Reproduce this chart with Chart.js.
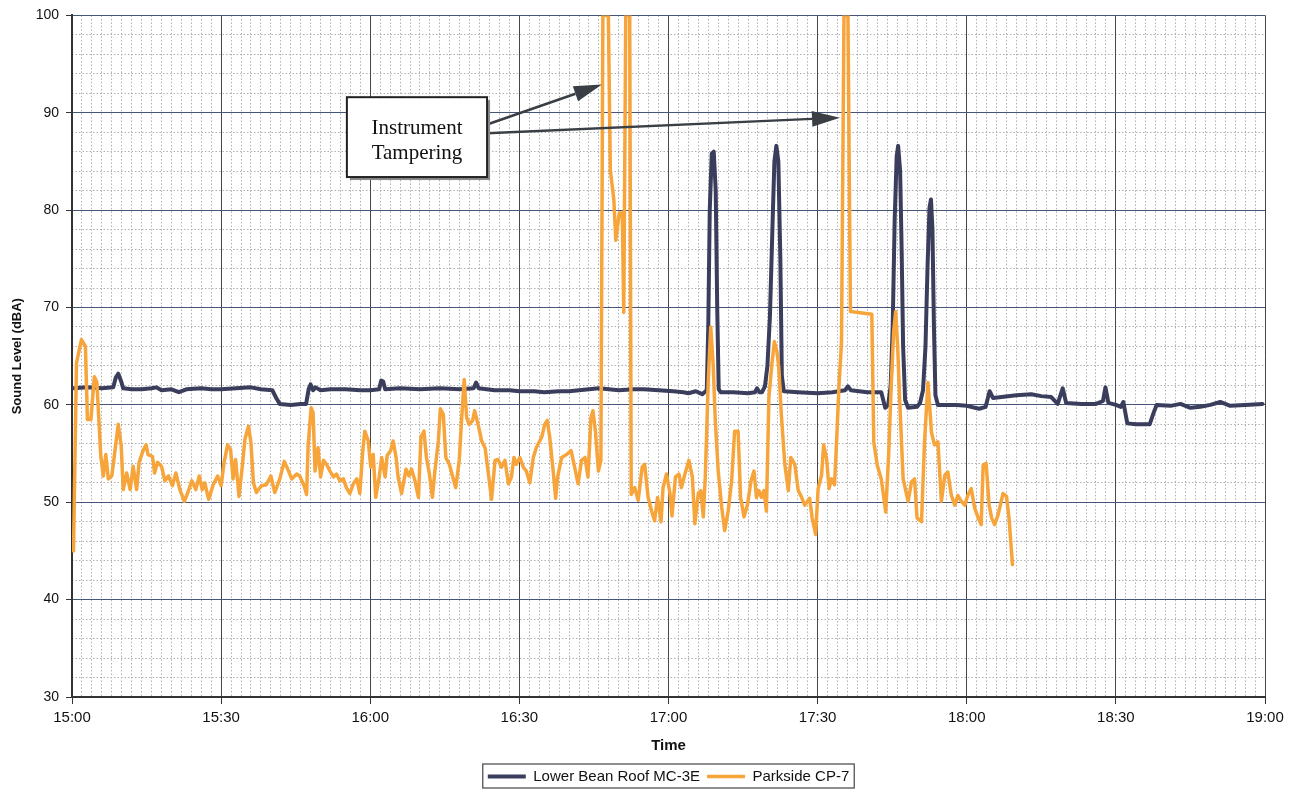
<!DOCTYPE html>
<html>
<head>
<meta charset="utf-8">
<title>Sound Level</title>
<script src="https://cdn.jsdelivr.net/npm/chart.js@4.4.1/dist/chart.umd.min.js"></script>
<style>
  body { margin: 0; background: #fff; }
  #wrap { width: 1294px; height: 791px; }
</style>
</head>
<body>
<div id="wrap"><canvas id="soundChart" width="1294" height="791"></canvas></div>
<script>
/* Time axis is minutes after 15:00 */
const timeLabels = ['15:00', '15:30', '16:00', '16:30', '17:00', '17:30', '18:00', '18:30', '19:00'];

/* Lower Bean Roof MC-3E */
const navyTime = [0.3, 3, 6, 8.3, 8.8, 9.3, 9.9, 10.3, 12, 14, 16, 17, 18, 20, 21.5, 23, 26, 28, 30, 33, 36, 38,
    40.3, 41.2, 41.8, 44, 46, 47.1, 47.6, 48, 48.5, 49, 50, 52, 55, 58, 60, 61.8, 62.2, 62.6, 63, 66, 70, 74, 78,
    80.8, 81.3, 81.8, 85, 88, 90, 93, 95, 98, 100, 102, 104, 106, 108, 110, 113, 115, 118, 121, 123, 124, 125.5,
    126.8, 127.7, 128, 128.3, 128.7, 129.1, 129.5, 129.8, 130.1, 130.5, 133, 136, 137.4, 137.8, 138.3, 138.8,
    139.4, 139.9, 140.4, 140.9, 141.3, 141.7, 142.1, 142.5, 142.8, 143.2, 146, 150, 153, 155.5, 156.1, 156.7,
    160, 162.8, 163.6, 164.2, 164.7, 165.1, 165.5, 165.9, 166.2, 166.6, 166.9, 167.2, 167.6, 168.2, 170, 170.6,
    171.2, 171.7, 172.1, 172.5, 172.8, 173.1, 173.4, 173.7, 174.2, 178, 180, 182.5, 183.8, 184.6, 185.3, 187,
    190, 193, 195, 197, 198.3, 199.3, 200, 203, 206, 207.4, 207.9, 208.5, 210, 211, 211.5, 212.3, 214, 216.8,
    217.6, 218.2, 221, 223, 225, 227, 229, 231, 233, 236, 239.5];
const navyLevel = [61.7, 61.8, 61.7, 61.8, 62.8, 63.2, 62.4, 61.7, 61.6, 61.6, 61.7, 61.8, 61.5, 61.6, 61.3, 61.6, 61.7, 61.6, 61.6, 61.7, 61.8, 61.6,
    61.5, 60.6, 60.1, 60.0, 60.1, 60.1, 61.6, 62.1, 61.5, 61.8, 61.5, 61.6, 61.6, 61.5, 61.5, 61.6, 62.5, 62.4, 61.6, 61.7, 61.6, 61.7, 61.6,
    61.7, 62.3, 61.7, 61.5, 61.5, 61.4, 61.4, 61.3, 61.4, 61.4, 61.5, 61.6, 61.7, 61.6, 61.5, 61.6, 61.6, 61.5, 61.4, 61.3, 61.2, 61.4,
    61.1, 61.5, 68, 80, 85.8, 86.0, 82, 70, 61.6, 61.3, 61.3, 61.2, 61.3, 61.7, 61.3, 61.3,
    61.9, 64, 69, 78, 85, 86.6, 85, 75, 63, 61.4, 61.3, 61.2, 61.3, 61.5, 61.9, 61.5,
    61.3, 61.3, 59.7, 60.0, 62, 68, 79, 85.5, 86.6, 84, 76, 66, 60.5, 59.7, 59.8, 60.2,
    61.5, 66, 74, 80.2, 81.1, 78, 68, 61, 60.0, 60.0, 59.9, 59.6, 59.8, 61.4, 60.7, 60.8,
    61.0, 61.1, 60.9, 60.8, 60.1, 61.7, 60.2, 60.1, 60.1, 60.4, 61.8, 60.2, 60.0, 59.8, 60.3, 58.1, 58.0, 58.0,
    59.2, 60.0, 59.9, 60.1, 59.7, 59.8, 60.0, 60.3, 59.9, 60.0, 60.1];

/* Parkside CP-7 */
const parkTime = [0.3, 0.9, 1.9, 2.7, 3.1, 3.8, 4.5, 5.0, 5.8, 6.3, 6.8, 7.3, 8.0, 8.5, 9.3, 9.9, 10.3, 11.0, 11.7,
    12.3, 13.0, 13.5, 14.3, 14.9, 15.3, 16.2, 16.6, 17.2, 18.0, 18.7, 19.4, 20.2, 20.9, 21.7, 22.6, 23.3, 24.1,
    24.9, 25.6, 26.2, 26.7, 27.5, 28.4, 29.3, 30.0, 30.6, 31.3, 31.9, 32.4, 32.9, 33.6, 34.2, 34.8, 35.5, 36.0,
    36.5, 37.1, 38.1, 39.1, 40.0, 40.8, 41.8, 42.7, 43.4, 44.2, 45.2, 45.8, 46.7, 47.2, 47.5, 48.1, 48.5, 48.9,
    49.5, 50.0, 50.6, 51.2, 51.9, 52.6, 53.2, 53.9, 54.6, 55.2, 55.9, 56.6, 57.3, 57.9, 58.5, 58.9, 59.6, 60.1,
    60.6, 61.1, 61.8, 62.3, 63.0, 63.4, 64.1, 64.6, 65.2, 65.6, 66.3, 67.2, 67.8, 68.3, 69.0, 69.7, 70.2, 70.8,
    71.3, 71.9, 72.5, 73.0, 73.7, 74.1, 74.7, 75.2, 75.9, 76.6, 77.2, 77.9, 78.4, 78.9, 79.4, 79.9, 80.6, 81.0,
    81.7, 82.4, 83.1, 83.7, 84.4, 85.1, 85.7, 86.4, 87.1, 87.8, 88.4, 88.9, 89.4, 90.1, 90.8, 91.4, 92.1, 92.8,
    93.4, 94.5, 95.1, 95.6, 96.1, 96.8, 97.3, 97.7, 98.5, 99.5, 100.4, 101.0, 101.8, 102.5, 103.2, 103.8, 104.4,
    104.8, 105.3, 105.9, 106.4, 106.8, 107.9, 108.3, 109.0, 109.4, 110.1, 110.7, 111.0, 111.4, 112.2, 112.5,
    113.2, 113.9, 114.7, 115.2, 115.9, 116.6, 117.2, 117.8, 118.5, 118.9, 119.6, 120.3, 120.7, 121.4, 122.1,
    122.6, 123.3, 124.1, 124.8, 125.3, 126.0, 126.5, 127.0, 127.4, 128.0, 128.5, 129.0, 129.4, 130.0, 130.7,
    131.3, 132.0, 132.7, 133.3, 134.0, 134.5, 135.2, 135.9, 136.6, 137.2, 137.7, 138.2, 138.7, 139.2, 139.7,
    140.2, 140.8, 141.3, 141.8, 142.2, 142.7, 143.4, 144.1, 144.6, 145.4, 146.1, 146.7, 147.4, 148.4, 148.9,
    149.6, 150.1, 150.8, 151.2, 151.8, 152.3, 152.8, 153.4, 153.9, 154.3, 154.8, 155.3, 156.1, 156.6, 160.9,
    161.3, 162.0, 162.8, 163.7, 164.3, 164.8, 165.3, 165.7, 166.1, 166.5, 167.2, 168.2, 168.9, 169.5, 170.0,
    170.9, 171.5, 172.2, 172.9, 173.5, 174.2, 174.9, 175.6, 176.2, 176.9, 177.6, 178.2, 178.9, 179.6, 180.2,
    180.9, 181.6, 182.3, 182.9, 183.3, 183.9, 184.5, 185.0, 185.6, 186.3, 187.3, 188.0, 188.5, 189.2];
const parkLevel = [45.0, 64.3, 66.7, 66.0, 58.5, 58.5, 62.9, 62.3, 54.7, 52.7, 54.9, 52.4, 52.7, 54.7, 58.0, 55.8, 51.3, 53.0, 51.3,
    53.7, 51.3, 54.1, 55.3, 55.9, 54.9, 54.7, 53.0, 54.1, 53.7, 52.2, 52.7, 51.7, 53.0, 51.3, 50.1, 51.0, 52.2,
    51.3, 52.7, 51.3, 52.0, 50.3, 51.8, 52.7, 51.7, 54.1, 55.9, 55.4, 52.4, 54.4, 50.6, 53.4, 56.5, 57.8, 56.1,
    52.0, 51.0, 51.7, 51.8, 52.7, 51.0, 52.4, 54.2, 53.4, 52.4, 52.9, 52.7, 51.7, 50.8, 55.8, 59.7, 59.2, 53.2,
    55.6, 52.6, 54.3, 53.9, 53.2, 52.6, 52.9, 52.2, 52.4, 51.5, 50.9, 51.9, 52.4, 50.9, 55.3, 57.3, 56.3, 53.6,
    54.9, 50.5, 52.6, 54.6, 52.6, 54.8, 55.3, 56.3, 54.6, 52.6, 50.9, 53.4, 52.7, 53.4, 52.2, 50.5, 56.7, 57.3,
    54.6, 52.9, 50.5, 53.2, 56.3, 59.6, 59.0, 54.6, 53.9, 52.6, 51.5, 54.3, 58.7, 62.6, 58.7, 58.0, 58.4, 59.4,
    58.0, 56.3, 55.6, 53.2, 50.3, 54.3, 54.4, 53.6, 54.3, 51.9, 52.6, 54.6, 53.9, 54.6, 53.6, 53.2, 52.0, 54.6,
    55.6, 56.7, 58.0, 58.4, 56.7, 53.2, 50.4, 52.6, 54.6, 54.9, 55.3, 53.9, 51.9, 54.3, 54.6, 52.6, 58.7,
    59.4, 57.3, 53.2, 54.3, 100, 100, 84.1, 81.1, 76.9, 79.7, 79.7, 69.5, 100, 100, 50.8,
    51.5, 50.2, 53.6, 53.9, 50.5, 49.1, 48.1, 50.5, 48.0, 51.5, 52.9, 50.9, 48.6, 52.6, 52.9,
    51.5, 52.9, 54.3, 52.6, 47.8, 50.9, 51.2, 48.5, 52.6, 62.5, 68.0, 64.0, 58.5, 53.2, 49.5,
    47.1, 49.1, 52.2, 57.3, 57.3, 50.5, 48.5, 49.8, 52.2, 53.2, 50.5, 51.2, 50.5, 51.2, 49.1,
    60.8, 64.2, 66.5, 65.5, 63.8, 59.0, 53.9, 51.2, 54.6, 53.9, 51.2, 50.6, 49.7, 50.4, 48.4,
    46.7, 51.4, 52.8, 55.9, 54.5, 51.4, 52.4, 51.8, 57.2, 62.0, 66.4, 100, 100, 69.6, 69.3,
    56.2, 53.8, 52.4, 49.0, 55.0, 62.0, 67.5, 69.6, 66.0, 60.6, 52.4, 50.1, 52.1, 52.4, 48.4,
    48.0, 56.2, 62.3, 57.2, 55.9, 56.2, 50.1, 52.8, 53.1, 50.7, 49.7, 50.7, 50.1, 49.7, 50.7,
    51.4, 49.4, 48.4, 47.7, 53.8, 54.0, 49.7, 48.4, 47.7, 48.7, 50.9, 50.6, 48.4, 43.6];

const noteLines = ['Instrument', 'Tampering'];

const sansFont = "'Liberation Sans', Arial, sans-serif";
const serifFont = "'Liberation Serif', 'Times New Roman', serif";

const toPoints = function(times, levels) {
    return times.map((t, i) => ({x: t, y: levels[i]}));
}

// arrow from (x1,y1) with a filled head at (x2,y2)
function drawArrow(ctx, x1, y1, x2, y2) {
    const ang = Math.atan2(y2 - y1, x2 - x1);
    const headLen = 28, headHalf = 8;
    const bx = x2 - headLen * Math.cos(ang), by = y2 - headLen * Math.sin(ang);
    ctx.beginPath();
    ctx.moveTo(x1, y1);
    ctx.lineTo(bx, by);
    ctx.stroke();
    ctx.beginPath();
    ctx.moveTo(x2, y2);
    ctx.lineTo(bx + headHalf * Math.sin(ang), by - headHalf * Math.cos(ang));
    ctx.lineTo(bx - headHalf * Math.sin(ang), by + headHalf * Math.cos(ang));
    ctx.closePath();
    ctx.fill();
}

/* Callout box with the two arrows, placed in data units */
const tamperNote = {
    id: 'tamperNote',
    afterDatasetsDraw(chart) {
        const {ctx, scales: {x, y}} = chart;
        const px = (m) => x.getPixelForValue(m);
        const py = (v) => y.getPixelForValue(v);
        ctx.save();
        ctx.strokeStyle = '#3a3f45';
        ctx.fillStyle = '#3a3f45';
        ctx.lineWidth = 2.5;
        drawArrow(ctx, px(83.5), py(88.8), px(106.6), py(92.9));
        drawArrow(ctx, px(83.5), py(87.9), px(154.5), py(89.5));

        const left = px(55.3), right = px(83.5), top = py(91.6), bottom = py(83.4);
        ctx.fillStyle = '#8a8a8a';
        ctx.fillRect(left + 3, top + 3, right - left, bottom - top);
        ctx.fillStyle = '#ffffff';
        ctx.fillRect(left, top, right - left, bottom - top);
        ctx.lineWidth = 2;
        ctx.strokeStyle = '#222';
        ctx.strokeRect(left, top, right - left, bottom - top);

        ctx.fillStyle = '#111';
        ctx.font = '21px ' + serifFont;
        ctx.textAlign = 'center';
        ctx.textBaseline = 'middle';
        const cx = (left + right) / 2;
        ctx.fillText(noteLines[0], cx, py(88.4));
        ctx.fillText(noteLines[1], cx, py(85.8));
        ctx.restore();
    }
};

/* Legend centred under the plot area, with a frame like the spreadsheet one */
const legendFrame = {
    id: 'legendFrame',
    afterUpdate(chart) {
        const lg = chart.legend;
        if (!lg) return;
        const off = (chart.chartArea.left + chart.chartArea.right) / 2 - (lg.left + lg.right) / 2;
        lg.left += off;
        lg.right += off;
        lg.top += 3;
        lg.bottom += 3;
    },
    afterDraw(chart) {
        const lg = chart.legend;
        if (!lg || !lg.lineWidths) return;
        const pad = lg.options.labels.padding;
        const rowWidth = lg.lineWidths[0];
        const left = (lg.left + pad + lg.right - rowWidth) / 2 - 5;
        const right = left + rowWidth - pad + 10;
        const top = lg.top + pad - 5;
        const bottom = Math.min(lg.top + pad + 19, chart.height - 2);
        const ctx = chart.ctx;
        ctx.save();
        ctx.strokeStyle = '#444';
        ctx.lineWidth = 1.2;
        ctx.strokeRect(left, top, right - left, bottom - top);
        ctx.restore();
    }
};

const ctx = document.getElementById('soundChart');
new Chart(ctx, {
    type: 'line',
    data: {
        datasets: [{
            label: 'Lower Bean Roof MC-3E',
            data: toPoints(navyTime, navyLevel),
            borderColor: '#3a3e5c',
            backgroundColor: '#3a3e5c',
            borderWidth: 4,
            order: 1
        }, {
            label: 'Parkside CP-7',
            data: toPoints(parkTime, parkLevel),
            borderColor: '#f7a53b',
            backgroundColor: '#f7a53b',
            borderWidth: 3.5,
            order: 0
        }]
    },
    options: {
        responsive: false,
        animation: false,
        events: [],
        layout: {
            padding: {left: 6, right: 29, top: 15, bottom: 0}
        },
        elements: {
            point: {radius: 0},
            line: {tension: 0, borderJoinStyle: 'round', borderCapStyle: 'round'}
        },
        datasets: {
            line: {clip: 0}
        },
        scales: {
            x: {
                type: 'linear',
                min: 0,
                max: 240,
                ticks: {
                    stepSize: 30,
                    autoSkip: false,
                    maxRotation: 0,
                    padding: 5,
                    color: '#111',
                    font: {family: sansFont, size: 15},
                    callback: (value) => timeLabels[Math.round(value / 30)]
                },
                grid: {color: '#474747', lineWidth: 1, tickLength: 7, tickColor: '#333'},
                border: {color: '#333', width: 2},
                title: {
                    display: true,
                    text: 'Time',
                    color: '#111',
                    font: {family: sansFont, size: 15, weight: 'bold'},
                    padding: {top: 4, bottom: 4}
                },
                afterFit: (scale) => { scale.height = 62; }
            },
            xMinor: {
                type: 'linear',
                axis: 'x',
                position: 'bottom',
                min: 0,
                max: 240,
                ticks: {display: false, stepSize: 2},
                grid: {color: '#b0b0b0', lineWidth: 1, drawTicks: false, z: -2},
                border: {display: false, dash: [1.5, 2]},
                afterFit: (scale) => { scale.height = 0; }
            },
            y: {
                min: 30,
                max: 100,
                ticks: {
                    stepSize: 10,
                    padding: 7,
                    color: '#111',
                    font: {family: sansFont, size: 14}
                },
                grid: {color: '#46557a', lineWidth: 1, tickLength: 6, tickColor: '#333'},
                border: {color: '#333', width: 2},
                title: {
                    display: true,
                    text: 'Sound Level (dBA)',
                    color: '#111',
                    font: {family: sansFont, size: 13, weight: 'bold'},
                    padding: {top: 4, bottom: 4}
                },
                afterFit: (scale) => { scale.width = 66; }
            },
            yMinor: {
                type: 'linear',
                axis: 'y',
                position: 'left',
                min: 30,
                max: 100,
                ticks: {display: false, stepSize: 2},
                grid: {color: '#b0b0b0', lineWidth: 1, drawTicks: false, z: -2},
                border: {display: false, dash: [1.5, 2]},
                afterFit: (scale) => { scale.width = 0; }
            }
        },
        plugins: {
            legend: {
                display: true,
                position: 'bottom',
                labels: {
                    usePointStyle: true,
                    pointStyle: 'line',
                    pointStyleWidth: 38,
                    padding: 7,
                    color: '#111',
                    font: {family: sansFont, size: 15},
                    sort: (a, b) => a.datasetIndex - b.datasetIndex
                }
            },
            tooltip: {enabled: false}
        }
    },
    plugins: [tamperNote, legendFrame]
});
</script>
</body>
</html>
